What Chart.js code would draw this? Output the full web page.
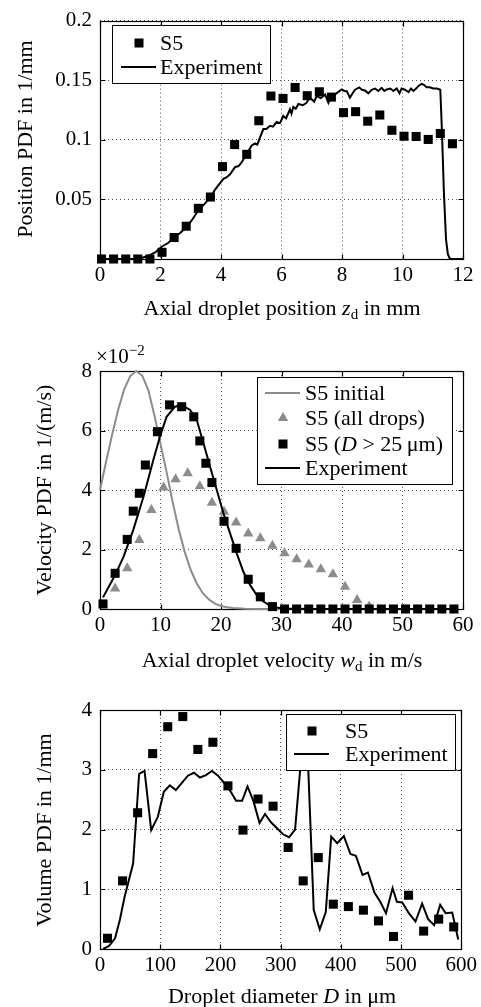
<!DOCTYPE html>
<html><head><meta charset="utf-8">
<script src="https://cdn.jsdelivr.net/npm/chart.js@4.4.1/dist/chart.umd.min.js"></script>
<style>
html,body{margin:0;padding:0;background:#fff;}
body{width:481px;height:1007px;position:relative;overflow:hidden;}
canvas{position:absolute;left:0;display:block;}
</style></head>
<body>
<canvas id="c1" style="top:0px"></canvas>
<canvas id="c2" style="top:325px"></canvas>
<canvas id="c3" style="top:680px"></canvas>
<script>
const FONT = '"Liberation Serif", "Times New Roman", serif';
const TS = 22;   // title / legend font size
const KS = 21;   // tick font size

// ---------- Chart 1: position PDF ----------
const posXTicks = ['0','2','4','6','8','10','12'];
const posYTicks = ['','0.05','0.1','0.15','0.2'];
const posS5X = [0.05,0.45,0.85,1.25,1.65,2.05,2.45,2.85,3.25,3.65,4.05,4.45,4.85,5.25,5.65,6.05,6.45,6.85,7.25,7.65,8.05,8.45,8.85,9.25,9.65,10.05,10.45,10.85,11.25,11.65];
const posS5Y = [0,0,0,0,0,0.0056,0.018,0.0275,0.0425,0.052,0.0775,0.096,0.0878,0.116,0.1367,0.1347,0.1439,0.137,0.1403,0.1358,0.1228,0.1236,0.1156,0.1208,0.108,0.103,0.1028,0.1003,0.1053,0.0967];
const posExpX = [0,1.2,1.4,1.65,1.85,2.04,2.26,2.48,2.66,2.86,3.05,3.25,3.45,3.66,3.8,3.91,4.08,4.19,4.3,4.46,4.58,4.68,4.85,5.01,5.12,5.2,5.29,5.4,5.5,5.62,5.72,5.84,5.95,6.06,6.15,6.28,6.33,6.39,6.47,6.56,6.7,6.83,6.92,7.0,7.08,7.16,7.3,7.44,7.55,7.63,7.71,7.82,7.99,8.08,8.16,8.26,8.35,8.43,8.57,8.66,8.76,8.87,8.98,9.09,9.2,9.31,9.4,9.48,9.6,9.7,9.81,9.9,9.97,10.08,10.2,10.28,10.36,10.45,10.52,10.63,10.72,10.8,10.9,11.02,11.14,11.25,11.3,11.37,11.44,11.5,11.57,12];
const posExpY = [0,0,0.001,0.0033,0.006,0.0103,0.0136,0.0186,0.022,0.027,0.033,0.041,0.046,0.052,0.058,0.0617,0.0672,0.0686,0.071,0.077,0.078,0.081,0.088,0.095,0.097,0.096,0.102,0.109,0.109,0.1117,0.111,0.115,0.114,0.12,0.118,0.1256,0.122,0.1275,0.126,0.13,0.129,0.131,0.135,0.134,0.132,0.1367,0.135,0.138,0.131,0.136,0.1367,0.139,0.1422,0.141,0.1408,0.1353,0.139,0.142,0.144,0.142,0.1414,0.139,0.142,0.143,0.141,0.1436,0.141,0.1422,0.143,0.141,0.143,0.139,0.143,0.142,0.14,0.143,0.141,0.143,0.145,0.147,0.146,0.144,0.144,0.143,0.143,0.142,0.11,0.055,0.016,0.004,0,0];

// ---------- Chart 2: velocity PDF (values in 1e-2) ----------
const velXTicks = ['0','10','20','30','40','50','60'];
const velYTicks = ['0','2','4','6','8'];
const velIniX = [0,1,2,3,4,5,6,7,8,9,10,11,12,13,14,15,16,17,18,19,20,21,22,24,26,30];
const velIniY = [4.0,4.94,5.86,6.7,7.38,7.83,8.0,7.84,7.35,6.5,5.55,4.61,3.6,2.69,1.92,1.31,0.86,0.53,0.32,0.18,0.1,0.06,0.03,0.01,0,0];
const velAllX = [2.5,4.5,6.5,8.5,10.5,12.5,14.5,16.5,18.5,20.5,22.5,24.5,26.5,28.5,30.5,32.5,34.5,36.5,38.5,40.5,42.5,44.5];
const velAllY = [0.69,1.37,2.32,3.33,4.08,4.36,4.56,4.13,3.57,3.27,2.91,2.54,2.38,2.13,1.87,1.67,1.5,1.34,1.17,0.75,0.3,0.08];
const velBigX = [0.5,2.5,4.5,5.5,6.5,7.5,9.5,11.5,13.5,15.5,16.5,17.5,18.5,20.5,22.5,24.5,26.5,28.5,30.5,32.5,34.5,36.5,38.5,40.5,42.5,44.5,46.5,48.5,50.5,52.5,54.5,56.5,58.5];
const velBigY = [0.17,1.2,2.34,3.29,3.89,4.84,5.96,6.86,6.8,6.46,5.65,4.9,4.25,2.95,2.04,1.0,0.41,0.08,0,0,0,0,0,0,0,0,0,0,0,0,0,0,0];
const velExpX = [0.5,2.5,3.9,5.5,7.2,8.8,9.9,11.0,12.4,13.5,14.9,16.0,17.1,18.2,19.3,20.4,21.5,22.6,23.7,24.8,25.9,27.0,28.4,30.2,35,40,45,50,55,59];
const velExpY = [0.39,1.14,1.76,2.66,3.78,5.0,5.79,6.46,6.8,6.86,6.69,6.35,5.57,4.78,4.0,3.22,2.54,1.87,1.25,0.81,0.47,0.25,0.08,0.02,0,0,0,0,0,0];

// ---------- Chart 3: volume PDF ----------
const volXTicks = ['0','100','200','300','400','500','600'];
const volYTicks = ['0','1','2','3','4'];
const volS5X = [12.5,37.5,62.5,87.5,112.5,137.5,162.5,187.5,212.5,237.5,262.5,287.5,312.5,337.5,362.5,387.5,412.5,437.5,462.5,487.5,512.5,537.5,562.5,587.5];
const volS5Y = [0.18,1.14,2.28,3.27,3.72,3.89,3.34,3.46,2.73,1.99,2.51,2.39,1.70,1.14,1.53,0.75,0.71,0.65,0.47,0.21,0.90,0.30,0.50,0.37];
const volExpX = [5,15,25,33,41,55,65,74,85,96,106,116,126,136,146,156,166,176,186,196,207,218,226,236,245,255,265,274,284,294,304,314,324,335,345,355,365,375,384,394,405,416,425,436,445,456,465,475,486,493,502,513,524,535,545,555,565,574,585,595];
const volExpY = [0,0.05,0.18,0.49,0.88,1.43,2.93,2.98,1.99,2.21,2.63,2.74,2.66,2.78,2.9,2.95,2.87,2.91,2.98,2.9,2.77,2.62,2.48,2.48,2.72,2.47,2.11,2.26,2.12,2.02,1.92,1.87,2.0,3.3,3.25,0.65,0.33,0.62,1.88,1.77,1.89,1.59,1.56,1.24,1.28,0.94,0.80,0.6,1.02,0.79,0.78,0.6,0.46,0.76,0.5,0.40,0.74,0.6,0.61,0.16];

const zip = (xs, ys) => xs.map((x, i) => ({x, y: ys[i]}));
const GRAY = '#8c8c8c';

function segsDraw(ctx, segs, x, y, align, rot) {
  ctx.save();
  ctx.translate(x, y);
  if (rot) ctx.rotate(rot);
  ctx.textBaseline = 'alphabetic';
  ctx.textAlign = 'left';
  ctx.fillStyle = '#000';
  let w = 0;
  segs.forEach(s => { ctx.font = (s.it ? 'italic ' : '') + (s.size || TS) + 'px ' + FONT; s.w = ctx.measureText(s.t).width; w += s.w; });
  let cx = align === 'center' ? -w / 2 : 0;
  segs.forEach(s => { ctx.font = (s.it ? 'italic ' : '') + (s.size || TS) + 'px ' + FONT; ctx.fillText(s.t, cx, s.dy || 0); cx += s.w; });
  ctx.restore();
}

function marker(ctx, kind, x, y) {
  ctx.save();
  if (kind === 'rect') { ctx.fillStyle = '#000'; ctx.fillRect(x - 4.5, y - 4.5, 9, 9); }
  else if (kind === 'tri') { ctx.fillStyle = GRAY; ctx.beginPath(); ctx.moveTo(x, y - 6); ctx.lineTo(x + 5.2, y + 3); ctx.lineTo(x - 5.2, y + 3); ctx.closePath(); ctx.fill(); }
  else { ctx.strokeStyle = kind === 'gline' ? GRAY : '#000'; ctx.lineWidth = 2; ctx.beginPath(); ctx.moveTo(x - 18, y); ctx.lineTo(x + 17, y); ctx.stroke(); }
  ctx.restore();
}

const framePlugin = {
  id: 'frame',
  beforeDatasetsDraw(chart) {
    const {ctx, chartArea: a, scales: {x, y}} = chart;
    const L = Math.round(a.left) + 0.5, R = Math.round(a.right) + 0.5, T = Math.round(a.top) + 0.5, B = Math.round(a.bottom) + 0.5;
    ctx.save();
    ctx.strokeStyle = '#000'; ctx.lineWidth = 1.2;
    ctx.strokeRect(L, T, R - L, B - T);
    ctx.beginPath();
    const tl = 5;
    x.ticks.forEach(t => { const p = Math.round(x.getPixelForValue(t.value)) + 0.5; ctx.moveTo(p, B); ctx.lineTo(p, B - tl); ctx.moveTo(p, T); ctx.lineTo(p, T + tl); });
    y.ticks.forEach(t => { const p = Math.round(y.getPixelForValue(t.value)) + 0.5; ctx.moveTo(L, p); ctx.lineTo(L + tl, p); ctx.moveTo(R, p); ctx.lineTo(R - tl, p); });
    ctx.stroke();
    ctx.restore();
  }
};

function legendPlugin(box, rows) {
  return {
    id: 'lgd',
    afterDatasetsDraw(chart) {
      const ctx = chart.ctx;
      ctx.save();
      ctx.fillStyle = '#fff';
      ctx.fillRect(box.x, box.y, box.w, box.h);
      ctx.strokeStyle = '#000'; ctx.lineWidth = 1;
      ctx.strokeRect(box.x + 0.5, box.y + 0.5, box.w, box.h);
      ctx.restore();
      rows.forEach(r => {
        marker(ctx, r.kind, box.mx, r.y);
        segsDraw(ctx, r.segs, box.tx, r.y + 7, 'left');
      });
    }
  };
}

function titlePlugin(items) {
  return {
    id: 'ttl',
    afterDraw(chart) {
      items.forEach(it => segsDraw(chart.ctx, it.segs, it.x, it.y, 'center', it.rot || 0));
    }
  };
}

function build(id, W, H, area, ax, datasets, extra) {
  const cv = document.getElementById(id);
  cv.width = W; cv.height = H;
  cv.style.width = W + 'px'; cv.style.height = H + 'px';
  const tickFont = {family: FONT, size: KS};
  return new Chart(cv, {
    type: 'scatter',
    data: {datasets},
    options: {
      responsive: false, animation: false, devicePixelRatio: 1,
      layout: {padding: {left: 0, top: area.top, right: W - area.right, bottom: 0}},
      plugins: {legend: {display: false}, tooltip: {enabled: false}},
      scales: {
        x: {
          type: 'linear', min: ax.xmin, max: ax.xmax,
          ticks: {stepSize: ax.xstep, color: '#000', font: tickFont, padding: 4, maxRotation: 0, autoSkip: false,
                  callback: v => ax.xl[Math.round((v - ax.xmin) / ax.xstep)]},
          grid: {color: '#555', lineWidth: 1, drawTicks: false},
          border: {display: false, dash: [1, 3]},
          afterFit: s => { s.height = H - area.bottom; }
        },
        y: {
          type: 'linear', min: ax.ymin, max: ax.ymax,
          ticks: {stepSize: ax.ystep, color: '#000', font: tickFont, padding: 8, autoSkip: false,
                  callback: v => ax.yl[Math.round((v - ax.ymin) / ax.ystep)]},
          grid: {color: '#555', lineWidth: 1, drawTicks: false},
          border: {display: false, dash: [1, 3]},
          afterFit: s => { s.width = area.left; }
        }
      }
    },
    plugins: [framePlugin].concat(extra)
  });
}

const sq = (data, order) => ({data, pointStyle: 'rect', pointRadius: 6.4, pointHoverRadius: 6.4, backgroundColor: '#000', borderWidth: 0, pointBorderWidth: 0, showLine: false, clip: false, order});
const ln = (data, color, order) => ({data, showLine: true, pointRadius: 0, pointHoverRadius: 0, borderColor: color, borderWidth: 2, tension: 0, clip: false, order});

// Chart 1
build('c1', 481, 325, {left: 100, right: 463, top: 19, bottom: 259},
  {xmin: 0, xmax: 12, xstep: 2, xl: posXTicks, ymin: 0, ymax: 0.2, ystep: 0.05, yl: posYTicks},
  [sq(zip(posS5X, posS5Y), 1), ln(zip(posExpX, posExpY), '#000', 0)],
  [legendPlugin({x: 112, y: 25, w: 158, h: 58, mx: 139, tx: 160},
     [{kind: 'rect', y: 43, segs: [{t: 'S5'}]}, {kind: 'line', y: 67, segs: [{t: 'Experiment'}]}]),
   titlePlugin([
     {x: 282, y: 315, segs: [{t: 'Axial droplet position '}, {t: 'z', it: true}, {t: 'd', size: 15, dy: 4}, {t: ' in mm'}]},
     {x: 32, y: 139, rot: -Math.PI / 2, segs: [{t: 'Position PDF in 1/mm'}]}
   ])]);

// Chart 2
build('c2', 481, 355, {left: 100, right: 463, top: 46, bottom: 284},
  {xmin: 0, xmax: 60, xstep: 10, xl: velXTicks, ymin: 0, ymax: 8, ystep: 2, yl: velYTicks},
  [ln(zip(velIniX, velIniY), GRAY, 3),
   {data: zip(velAllX, velAllY), pointStyle: 'triangle', pointRadius: 6, pointHoverRadius: 6, backgroundColor: GRAY, borderWidth: 0, pointBorderWidth: 0, showLine: false, clip: false, order: 2},
   sq(zip(velBigX, velBigY), 1),
   ln(zip(velExpX, velExpY), '#000', 0)],
  [legendPlugin({x: 257, y: 52, w: 195, h: 107, mx: 283, tx: 305},
     [{kind: 'gline', y: 68, segs: [{t: 'S5 initial'}]},
      {kind: 'tri', y: 93, segs: [{t: 'S5 (all drops)'}]},
      {kind: 'rect', y: 119, segs: [{t: 'S5 ('}, {t: 'D', it: true}, {t: ' > 25\u2009\u03bcm)'}]},
      {kind: 'line', y: 143, segs: [{t: 'Experiment'}]}]),
   titlePlugin([
     {x: 282, y: 342, segs: [{t: 'Axial droplet velocity '}, {t: 'w', it: true}, {t: 'd', size: 15, dy: 4}, {t: ' in m/s'}]},
     {x: 51, y: 165, rot: -Math.PI / 2, segs: [{t: 'Velocity PDF in 1/(m/s)'}]}
   ]),
   {id: 'expo', afterDraw(chart) { segsDraw(chart.ctx, [{t: '\u00d710', size: KS}, {t: '\u22122', size: 15, dy: -8}], 96, 38, 'left'); }}]);

// Chart 3
build('c3', 481, 327, {left: 100, right: 463, top: 30, bottom: 269},
  {xmin: 0, xmax: 600, xstep: 100, xl: volXTicks, ymin: 0, ymax: 4, ystep: 1, yl: volYTicks},
  [sq(zip(volS5X, volS5Y), 1), ln(zip(volExpX, volExpY), '#000', 0)],
  [legendPlugin({x: 286, y: 34, w: 169, h: 56, mx: 312, tx: 345},
     [{kind: 'rect', y: 51, segs: [{t: 'S5'}]}, {kind: 'line', y: 74, segs: [{t: 'Experiment'}]}]),
   titlePlugin([
     {x: 282, y: 323, segs: [{t: 'Droplet diameter '}, {t: 'D', it: true}, {t: ' in \u03bcm'}]},
     {x: 51, y: 150, rot: -Math.PI / 2, segs: [{t: 'Volume PDF in 1/mm'}]}
   ])]);
</script>
</body></html>
